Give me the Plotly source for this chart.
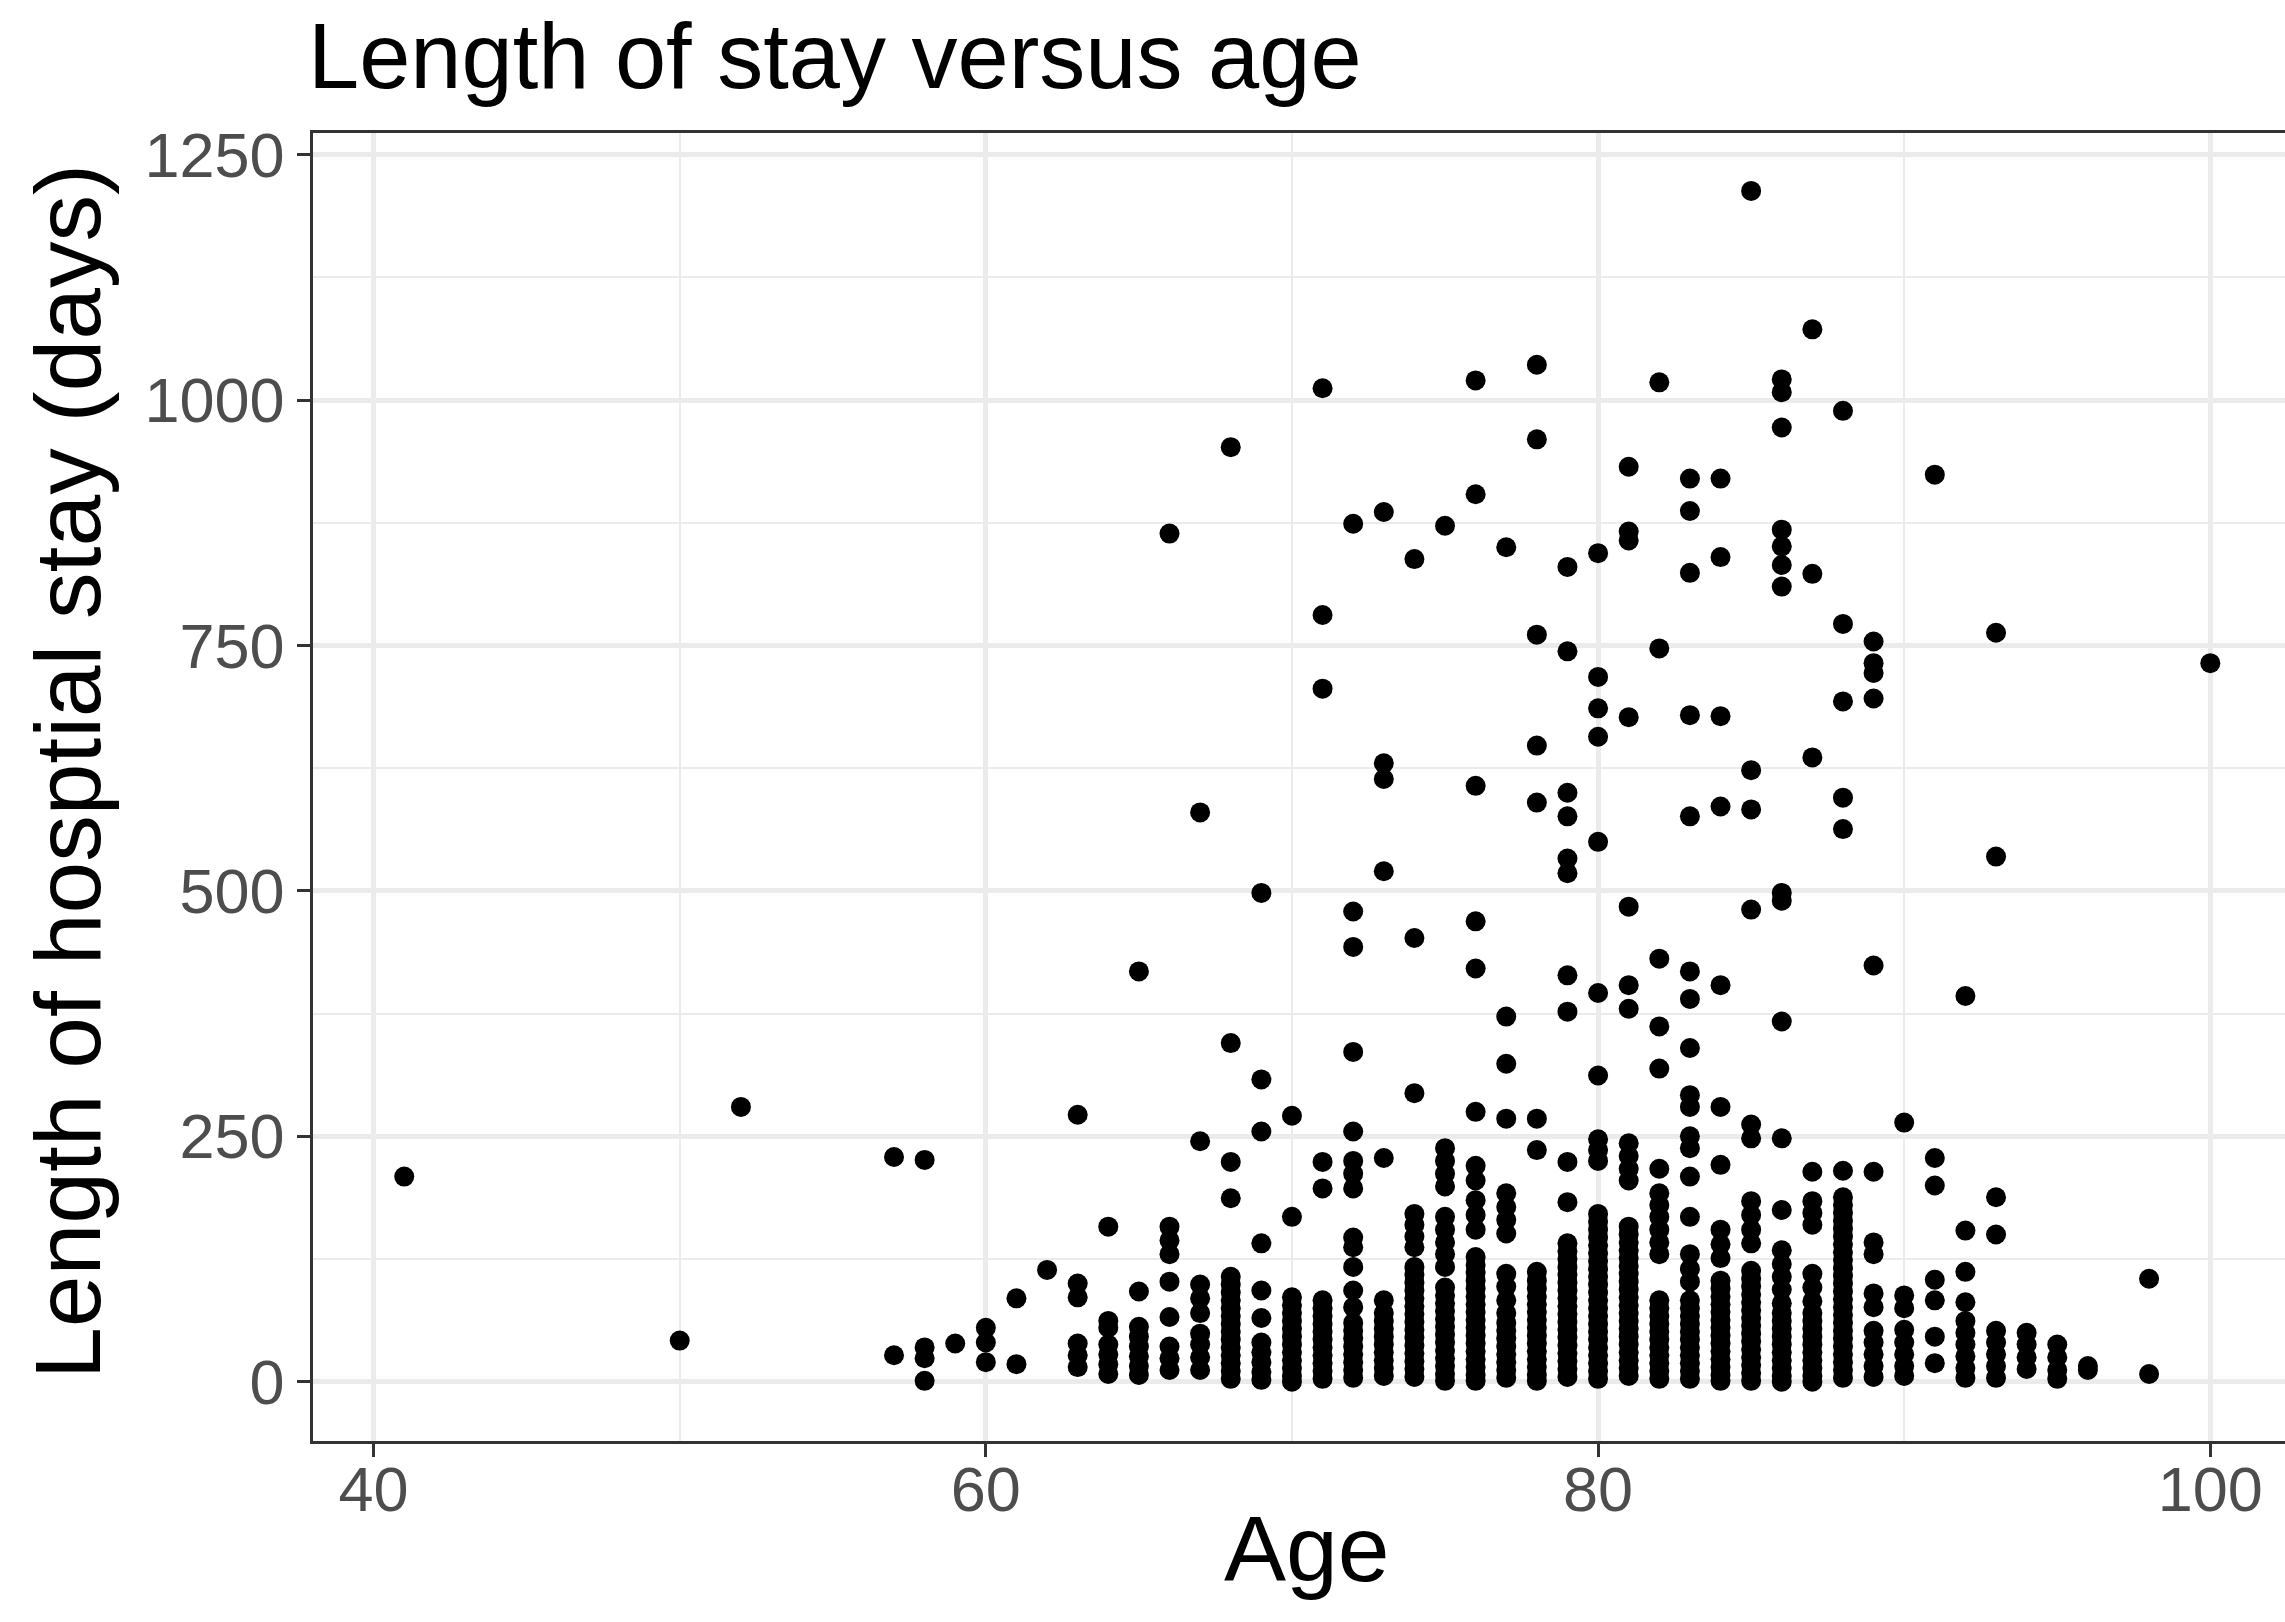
import plotly.graph_objects as go

# ---------------- data ----------------
ages = [41, 50, 52, 57, 58, 59, 60, 61, 62, 63, 64, 65, 66, 67, 68, 69, 70,
        71, 72, 73, 74, 75, 76, 77, 78, 79, 80, 81, 82, 83, 84, 85, 86, 87,
        88, 89, 90, 91, 92, 93, 94, 95, 96, 98, 100]

s41 = [209]
s50 = [42]
s52 = [280]
s57 = [229, 27]
s58 = [226, 35, 24, 1]
s59 = [39]
s60 = [55, 40, 20]
s61 = [85, 18]
s62 = [114]
s63 = [272, 100, 86, 39, 27, 15]
s64 = [158, 62, 55, 38, 28, 18, 8]
s65 = [418, 92, 56, 46, 36, 26, 16, 7]
s66 = [864, 158, 144, 130, 102, 66, 36, 24, 12]
s67 = [580, 245, 99, 85, 70, 49, 38, 25, 12]
s68 = [952, 345, 224, 187, 107, 99, 91, 83, 75, 67, 59, 51, 43, 35, 27, 19, 11, 3]
s69 = [498, 308, 255, 141, 93, 65, 40, 30, 20, 10, 2]
s70 = [271, 168, 86, 78, 70, 62, 54, 46, 38, 30, 22, 14, 6, 0]
s71 = [1012, 781, 706, 224, 197, 83, 75, 67, 59, 51, 43, 35, 27, 19, 11, 3]
s72 = [874, 479, 443, 336, 255, 225, 212, 197, 147, 137, 117, 93, 76, 60, 52,
       44, 36, 28, 20, 12, 4]
s73 = [886, 630, 614, 520, 228, 83, 70, 62, 54, 46, 38, 30, 22, 14, 6]
s74 = [838, 452, 294, 171, 160, 148, 137, 117, 109, 101, 93, 85, 77, 69, 61,
       53, 45, 37, 29, 21, 13, 5]
s75 = [872, 238, 225, 212, 199, 168, 155, 142, 130, 117, 96, 88, 80, 72, 64,
       56, 48, 40, 32, 24, 16, 8, 1]
s76 = [1020, 904, 607, 469, 421, 275, 220, 205, 185, 170, 155, 127, 119, 111,
       103, 95, 87, 79, 71, 63, 55, 47, 39, 31, 23, 15, 7, 1]
s77 = [850, 372, 324, 268, 192, 178, 165, 151, 110, 97, 83, 70, 60, 52, 44,
       36, 28, 20, 12, 4]
s78 = [1036, 960, 761, 648, 590, 268, 236, 112, 103, 95, 87, 79, 71, 63, 55,
       47, 39, 31, 23, 15, 7, 1]
s79 = [830, 744, 600, 576, 533, 518, 414, 377, 224, 183, 141, 133, 125, 117,
       109, 101, 93, 85, 77, 69, 61, 53, 45, 37, 29, 21, 13, 5]
s80 = [844, 718, 686, 657, 550, 396, 312, 247, 236, 225, 171, 163, 155, 147,
       139, 131, 123, 115, 107, 99, 91, 83, 75, 67, 59, 51, 43, 35, 27, 19,
       11, 3]
s81 = [932, 866, 857, 677, 484, 404, 380, 243, 230, 217, 205, 158, 150, 142,
       134, 126, 118, 110, 102, 94, 86, 78, 70, 62, 54, 46, 38, 30, 22, 14, 6]
s82 = [1018, 747, 431, 362, 319, 217, 192, 180, 168, 155, 142, 130, 83, 75,
       67, 59, 51, 43, 35, 27, 19, 11, 3]
s83 = [920, 887, 824, 679, 576, 418, 390, 340, 292, 280, 250, 238, 209, 168,
       130, 115, 102, 83, 75, 67, 59, 51, 43, 35, 27, 19, 11, 3]
s84 = [920, 840, 678, 586, 404, 280, 221, 155, 140, 126, 103, 95, 87, 79, 71,
       63, 55, 47, 39, 31, 23, 15, 7, 1]
s85 = [1213, 623, 583, 481, 262, 248, 184, 170, 155, 141, 113, 105, 97, 89,
       81, 73, 65, 57, 49, 41, 33, 25, 17, 9, 1]
s86 = [1021, 1008, 972, 868, 851, 832, 810, 498, 490, 367, 248, 175, 134,
       120, 107, 94, 80, 70, 62, 54, 46, 38, 30, 22, 14, 6, 0]
s87 = [1072, 823, 636, 214, 184, 172, 160, 110, 96, 82, 70, 62, 54, 46, 38,
       30, 22, 14, 6, 0]
s88 = [989, 772, 693, 595, 563, 215, 188, 180, 172, 164, 156, 148, 140, 132,
       124, 116, 108, 100, 92, 84, 76, 68, 60, 52, 44, 36, 28, 20, 12, 4]
s89 = [754, 732, 722, 696, 424, 214, 142, 130, 90, 76, 52, 40, 28, 16, 5]
s90 = [264, 88, 75, 53, 40, 28, 16, 6]
s91 = [924, 228, 200, 104, 83, 46, 19]
s92 = [393, 154, 112, 81, 62, 50, 38, 26, 14, 4]
s93 = [763, 535, 188, 150, 52, 40, 28, 16, 4]
s94 = [50, 38, 25, 13]
s95 = [38, 25, 12, 3]
s96 = [16, 12]
s98 = [105, 8]
s100 = [732]

stays = [s41, s50, s52, s57, s58, s59, s60, s61, s62, s63, s64, s65, s66, s67,
         s68, s69, s70, s71, s72, s73, s74, s75, s76, s77, s78, s79, s80, s81,
         s82, s83, s84, s85, s86, s87, s88, s89, s90, s91, s92, s93, s94, s95,
         s96, s98, s100]

x_ticks = [40, 60, 80, 100]
y_ticks = [0, 250, 500, 750, 1000, 1250]

title_text = "Length of stay versus age"
x_title = "Age"
y_title = "Length of hosptial stay (days)"

# ---------------- build ----------------
xs, ys = [], []
for a, vals in zip(ages, stays):
    xs += [a] * len(vals)
    ys += vals

FONT = "Liberation Sans, Arial, Helvetica, sans-serif"
W, H = 2285, 1622
L, R, T, B = 313, 0, 133, 181
PW, PH = W - L - R, H - T - B


def px(xp):
    return (xp - L) / PW


def py(yp):
    return (H - B - yp) / PH


fig = go.Figure(go.Scatter(
    x=xs, y=ys, mode="markers",
    marker=dict(size=20, color="black", line=dict(width=0)),
    hoverinfo="skip"))

fig.update_layout(
    width=W, height=H,
    margin=dict(l=L, r=R, t=T, b=B, pad=0),
    paper_bgcolor="white", plot_bgcolor="white",
    showlegend=False,
    font=dict(family=FONT),
    annotations=[
        dict(text=title_text, xref="paper", yref="paper", x=px(306), y=py(56),
             xanchor="left", yanchor="middle", showarrow=False,
             font=dict(size=92, color="black", family=FONT)),
        dict(text=x_title, xref="paper", yref="paper", x=px(1306), y=py(1549),
             xanchor="center", yanchor="middle", showarrow=False,
             font=dict(size=93, color="black", family=FONT)),
        dict(text=y_title, xref="paper", yref="paper", x=px(68), y=py(772),
             xanchor="center", yanchor="middle", showarrow=False, textangle=-90,
             font=dict(size=93, color="black", family=FONT)),
    ],
)

axis_common = dict(
    showgrid=True, gridcolor="#EBEBEB", gridwidth=4.5,
    zeroline=False, showline=True, linecolor="#333333", linewidth=2.5,
    ticks="outside", ticklen=13, tickwidth=2.5, tickcolor="#333333",
    tickfont=dict(size=63, color="#4D4D4D", family=FONT),
)

fig.update_xaxes(
    range=[38.02, 102.44], tickmode="array", tickvals=x_ticks,
    ticktext=[str(v) for v in x_ticks], mirror=True,
    ticklabelstandoff=-21,
    minor=dict(tick0=30, dtick=10, showgrid=True, gridcolor="#EBEBEB",
               gridwidth=2.3, ticks=""),
    **axis_common)

fig.update_yaxes(
    range=[-60.3, 1272], tickmode="array", tickvals=y_ticks,
    ticktext=[str(v) for v in y_ticks], mirror=False,
    ticklabelstandoff=0,
    minor=dict(tick0=125, dtick=250, showgrid=True, gridcolor="#EBEBEB",
               gridwidth=2.3, ticks=""),
    **axis_common)

fig.write_html("out.html")
